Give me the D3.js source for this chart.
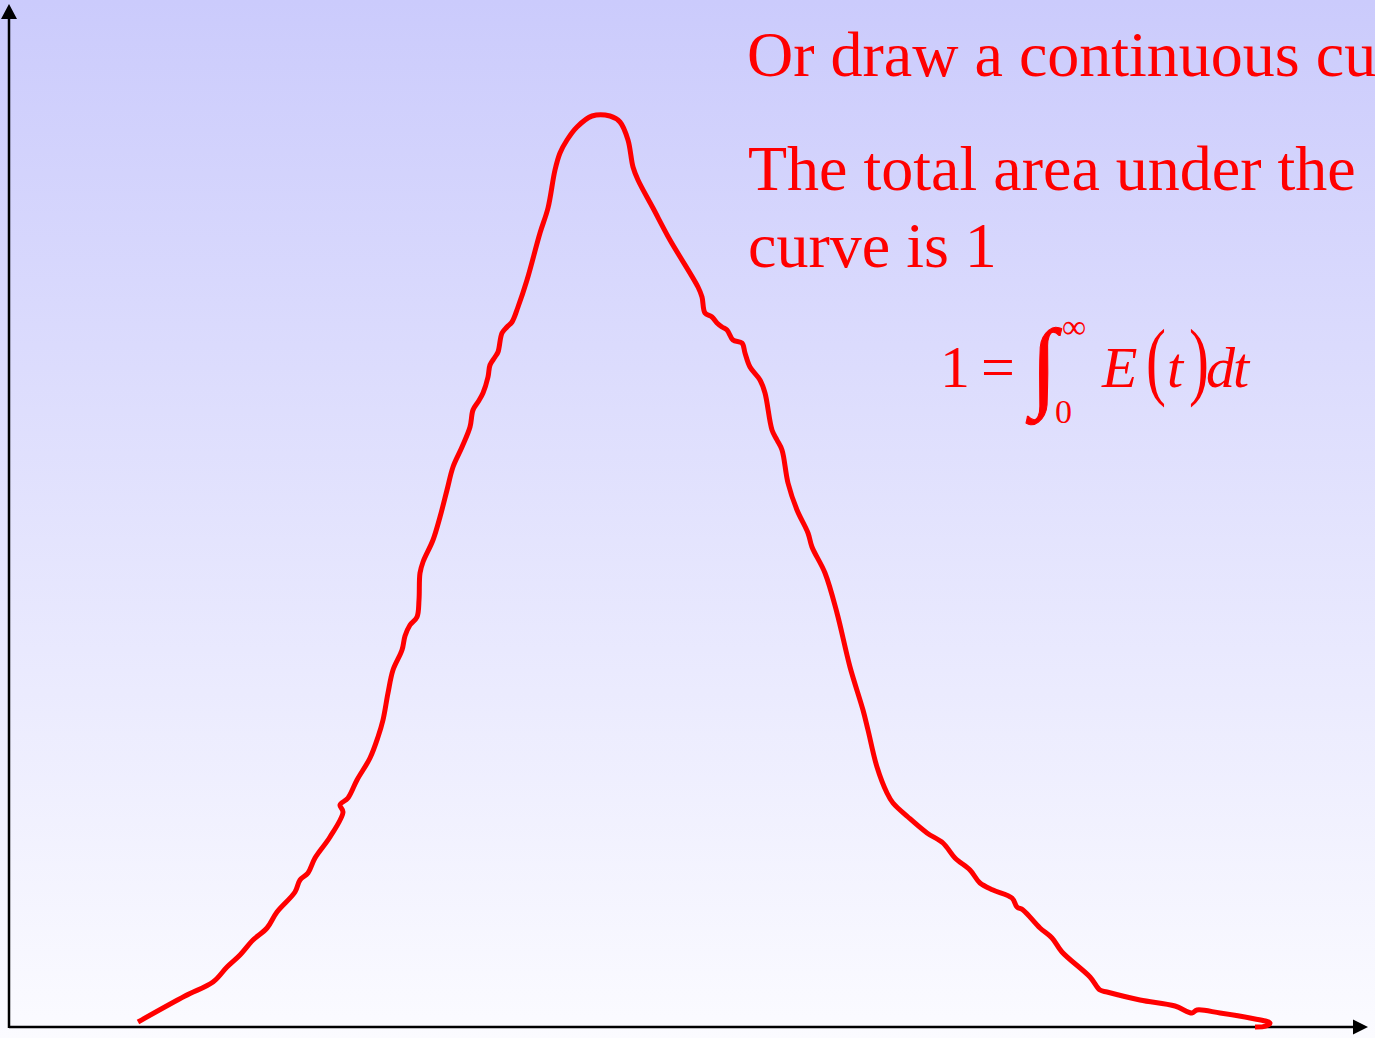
<!DOCTYPE html>
<html>
<head>
<meta charset="utf-8">
<script src="https://cdn.jsdelivr.net/npm/d3@7"></script>
<style>
  html, body { margin: 0; padding: 0; background: #fff; overflow: hidden; }
  svg { display: block; }
</style>
</head>
<body>
<script>
// Residence-time distribution E(t): a hand-sketched bell-shaped curve
const tVals = [12.9, 17.6, 20.4, 21.8, 23.1, 24.4, 25.8, 26.8, 28.6, 29.1, 29.9, 30.6, 32.1, 33.4, 33.1, 33.9,
  34.8, 36.1, 36.9, 37.4, 37.9, 38.4, 39.3, 39.6, 40.1, 40.8, 41.0, 41.1, 41.4, 42.4, 43.1, 43.8, 44.4, 45.3,
  46.1, 46.4, 46.9, 47.4, 47.9, 48.1, 48.6, 48.9, 49.3, 49.8, 50.3, 50.9, 51.8, 53.1, 53.9, 54.6, 55.1, 55.8,
  56.8, 58.3, 60.1, 61.1, 61.9, 62.4, 62.9, 64.4, 66.1, 68.9, 69.3, 69.6, 70.3, 70.8, 71.3, 71.8, 72.4, 73.3,
  73.6, 74.1, 75.1, 75.6, 76.3, 76.8, 77.3, 77.9, 78.8, 79.9, 80.3, 81.6, 82.8, 84.1, 85.4, 85.9, 86.8, 87.8,
  88.4, 89.9, 91.8, 93.4, 94.6, 96.1, 97.1, 98.4, 100.3, 100.8, 101.4, 103.1, 104.3, 105.3, 108.1, 109.1,
  109.8, 113.1, 116.6, 118.3, 118.8, 121.1, 124.1, 126.1, 125.7, 124.6];
const eVals = [0.5, 3.1, 4.5, 6.0, 7.2, 8.7, 9.9, 11.5, 13.5, 14.7, 15.4, 16.9, 19.0, 21.5, 22.2, 22.9,
  24.7, 26.9, 29.0, 30.7, 33.4, 35.7, 37.7, 39.1, 40.2, 41.0, 42.7, 45.4, 46.5, 48.7, 51.0, 53.7, 56.0, 58.0,
  60.0, 61.7, 62.5, 63.4, 65.0, 66.2, 67.0, 67.5, 69.4, 70.0, 70.5, 72.0, 74.7, 79.4, 81.9, 85.7, 87.4, 88.7,
  90.0, 91.1, 91.1, 90.5, 88.7, 86.0, 84.7, 81.9, 78.7, 74.0, 73.0, 71.4, 71.0, 70.4, 70.0, 69.7, 68.7, 68.4,
  67.4, 66.0, 64.7, 63.4, 59.7, 58.7, 57.7, 54.4, 51.7, 49.4, 48.0, 45.4, 41.4, 36.0, 31.7, 29.7, 26.0, 23.4,
  22.4, 21.0, 19.4, 18.4, 16.9, 15.7, 14.4, 13.7, 12.9, 12.0, 11.7, 9.9, 8.9, 7.5, 5.0, 3.7,
  3.5, 2.7, 2.1, 1.4, 1.7, 1.4, 0.9, 0.4, 0.1, 0.0];

const noteLines = ["Or draw a continuous curve", "The total area under the", "curve is 1"];

const W = 1375, H = 1038;
const svg = d3.select("body").append("svg").attr("width", W).attr("height", H);

// soft vertical gradient backdrop
const defs = svg.append("defs");
const grad = defs.append("linearGradient").attr("id", "bg").attr("x1", 0).attr("y1", 0).attr("x2", 0).attr("y2", 1);
grad.append("stop").attr("offset", "0%").attr("stop-color", "#cbcbfc");
grad.append("stop").attr("offset", "100%").attr("stop-color", "#fbfbff");
svg.append("rect").attr("width", W).attr("height", H).attr("fill", "url(#bg)");

const x = d3.scaleLinear().domain([0, 130]).range([9, 1309]);
const y = d3.scaleLinear().domain([0, 100]).range([1027, 27]);

// axes with arrowheads
const axisG = svg.append("g");
axisG.append("line").attr("x1", x(0)).attr("y1", y(0)).attr("x2", 1356).attr("y2", y(0))
  .attr("stroke", "#000").attr("stroke-width", 2.5);
axisG.append("line").attr("x1", x(0)).attr("y1", y(0) + 1).attr("x2", x(0)).attr("y2", 16)
  .attr("stroke", "#000").attr("stroke-width", 2.5);
axisG.append("path").attr("d", `M1368,${y(0)} L1353,${y(0) - 7.5} L1353,${y(0) + 7.5} Z`).attr("fill", "#000");
axisG.append("path").attr("d", `M${x(0)},4 L${x(0) - 8},19 L${x(0) + 8},19 Z`).attr("fill", "#000");

// the distribution curve
const pts = tVals.map((t, i) => [t, eVals[i]]);
const line = d3.line().x(d => x(d[0])).y(d => y(d[1])).curve(d3.curveCatmullRom.alpha(0.5));
svg.append("path").datum(pts).attr("d", line)
  .attr("fill", "none").attr("stroke", "#ff0000").attr("stroke-width", 5)
  .attr("stroke-linejoin", "round").attr("stroke-linecap", "butt");

// notes
const serif = "'Liberation Serif', 'Times New Roman', Times, serif";
const red = "#ff0000";
svg.append("text").attr("x", 747).attr("y", 76).attr("font-family", serif).attr("font-size", 64)
  .attr("fill", red).text(noteLines[0]);
const note2 = svg.append("text").attr("font-family", serif).attr("font-size", 64).attr("fill", red);
note2.append("tspan").attr("x", 748).attr("y", 190).text(noteLines[1]);
note2.append("tspan").attr("x", 748).attr("y", 267).text(noteLines[2]);

// 1 = ∫0^∞ E(t) dt
const eq = svg.append("g").attr("font-family", serif).attr("fill", red);
const base = 387;
eq.append("text").attr("x", 940).attr("y", base).attr("font-size", 60).text("1");
eq.append("text").attr("x", 981).attr("y", base).attr("font-size", 60).text("=");
eq.append("text").attr("transform", `translate(1031,${base + 11}) scale(1.05,1.1)`).attr("font-size", 90)
  .attr("stroke", red).attr("stroke-width", 1).text("\u222B");
eq.append("text").attr("x", 1062).attr("y", 338).attr("font-size", 34).text("\u221E");
eq.append("text").attr("x", 1055).attr("y", 423).attr("font-size", 34).text("0");
eq.append("text").attr("x", 1102).attr("y", base).attr("font-size", 58).attr("font-style", "italic").text("E");
eq.append("text").attr("transform", `translate(1146,${base + 2}) scale(1,1.45)`).attr("font-size", 60).text("(");
eq.append("text").attr("x", 1167).attr("y", base).attr("font-size", 58).attr("font-style", "italic").text("t");
eq.append("text").attr("transform", `translate(1189,${base + 2}) scale(1,1.45)`).attr("font-size", 60).text(")");
eq.append("text").attr("x", 1206).attr("y", base).attr("font-size", 58).attr("font-style", "italic").text("d");
eq.append("text").attr("x", 1233).attr("y", base).attr("font-size", 58).attr("font-style", "italic").text("t");
</script>
</body>
</html>
